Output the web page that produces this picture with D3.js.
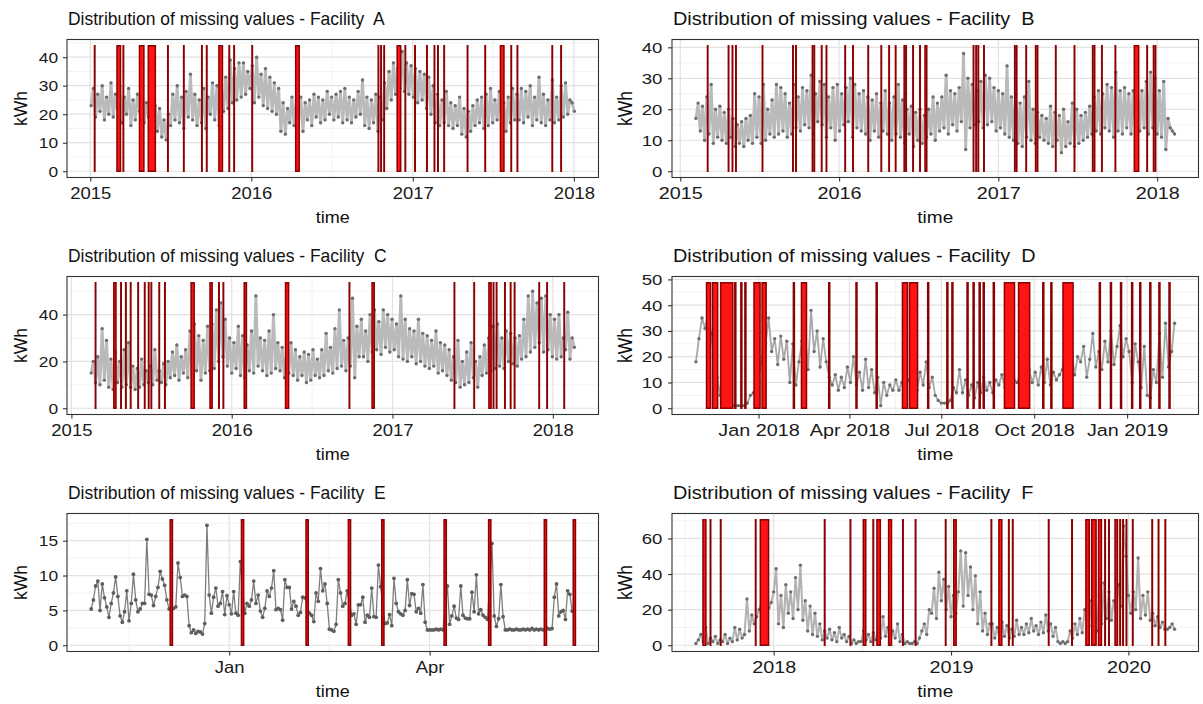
<!DOCTYPE html>
<html><head><meta charset="utf-8">
<script src="https://cdnjs.cloudflare.com/ajax/libs/d3/7.8.5/d3.min.js"></script>
<style>html,body{margin:0;padding:0;background:#fff}svg{display:block}</style>
</head><body>
<svg id="chart" width="1203" height="704"></svg>
<script>
// ---------------- DATA ----------------
const facilities = ["A", "B", "C", "D", "E", "F"];

// series start dates and sampling step (days)
const aStart = "2015-01-03", aStep = 5;
const bStart = "2015-02-06", bStep = 5;
const cStart = "2015-02-15", cStep = 5;
const dStart = "2017-10-31", dStep = 3;
const eStart = "2018-10-31", eStep = 1;
const fStart = "2017-07-25", fStep = 5;

const aValues = [23,29,
 19,27,21,30,18,26, 20,31,19,27,22,30, 17,26,20,29,16,25, 18,27,21,30,17,24, 19,26,15,23,14,22, 12,18,11,20,16,27,
 18,30,17,26,15,28, 19,34,18,27,16,25, 17,29,15,26,20,31, 18,30,16,27,21,33, 22,39,24,36,25,38,
 26,38,27,35,29,37, 24,40,26,34,23,36, 22,33,21,31,20,29, 14,24,13,22,17,26, 16,25,17,26,14,24, 18,25,16,27,19,26,
 17,25,18,28,20,26, 18,27,19,28,17,29, 18,26,17,25,19,28, 20,32,16,26,15,25, 17,27,14,26,18,31, 22,35,25,38,27,36,
 29,42,28,38,27,37, 26,36,24,35,25,34, 22,33,20,30,17,27, 16,25,17,28,16,24, 15,23,16,26,13,22, 12,21,14,23,16,25,
 17,26,15,27,16,29, 17,25,18,28,16,24, 14,26,17,29,18,27, 18,29,17,28,19,30, 16,26,18,33,17,27, 16,25,18,32,17,26,
 18,30,19,31,20,25,24,21];

const bValues = [17,22,13,21,10,
 24,12,28,9,20,11, 21,10,19,9,20,11, 17,8,15,9,16,8, 17,10,18,9,25,11, 24,9,28,10,20,12,
 23,11,28,12,27,13, 25,11,22,12,28,14, 24,13,27,15,26,14, 31,12,25,16,29,15, 28,11,24,14,27,10,
 28,13,25,15,27,16, 30,11,28,14,25,13, 26,12,24,10,23,13, 25,11,22,13,26,12, 22,10,24,12,28,11, 23,9,20,12,21,8,
 19,10,20,9,18,11, 20,12,24,10,22,13, 24,14,31,12,26,15, 25,13,27,16,38,7, 30,14,28,15,26,16, 29,14,31,15,30,16,
 27,13,26,14,25,12, 34,11,24,10,25,9, 22,8,24,11,29,10, 20,9,19,11,18,10, 17,9,21,8,19,10, 18,6,20,8,16,9,
 22,8,20,9,18,10, 19,11,21,12,24,13, 26,12,25,14,28,13, 27,11,32,13,26,12, 27,14,25,12,26,15, 28,13,26,14,29,12,
 32,14,30,12,26,11, 29,7,17,14,13,12];

const cValues = [15,20,11,
 22,10,34,12,29,9, 21,8,24,11,20,9, 25,10,28,9,18,8, 17,9,21,10,16,11, 18,10,25,12,16,11,
 19,10,20,13,24,14, 27,12,22,15,25,13, 33,14,36,16,31,12, 29,15,35,16,36,17, 42,20,45,22,38,18,
 30,15,28,17,35,14, 31,13,27,16,33,15, 48,18,30,16,29,14, 33,15,40,17,28,16, 26,13,24,15,28,14, 25,12,22,14,24,11,
 23,12,25,14,21,13, 25,14,32,16,26,15, 34,17,42,18,29,16, 30,18,47,13,35,22, 38,22,33,20,40,24, 42,25,37,23,42,26,
 40,24,38,25,36,22, 48,21,38,20,34,22, 33,19,38,20,32,18, 31,17,29,18,33,15, 28,16,27,14,25,12, 22,11,29,9,20,10,
 24,11,28,13,20,9, 22,14,27,15,30,16, 35,17,36,18,30,17, 33,20,32,19,30,18, 31,21,38,22,48,24, 50,26,45,28,47,24,
 48,25,40,22,38,21, 40,22,30,25,41,21,30,26];

const dValues = [18,27,35,31,37,
 29,20,12,5,2,1,1,1, 1,1,1,1,2,5,6, 8,15,20,25,
 35,22,27,17,28,19,26, 10,25,9,18,26,29,15, 38,22,30,16,27,18,12, 9,13,7,12,8,16,10,
 20,9,14,7,19,8,15, 6,12,1,10,5,9,7, 11,7,10,8,11,9,12, 7,14,9,18,8,12,5,
 3,2,2,2,3,8,6, 15,6,11,5,9,4,10, 6,12,7,10,6,11,9, 13,8,12,9,11,10,13,
 12,9,15,10,14,9,16, 10,19,9,14,11,13,15, 26,14,22,13,20,18,24, 12,19,29,16,22,15,26,
 18,30,17,24,32,20,27, 22,10,25,18,8,24,5, 4,15,10,29,12,33,16, 22,33];

// Facility E: daily readings, null = missing day
const eValues = [5.2,6.5,8.5,9.2,5.0,8.8,6.8,5.5,4.0,6.0,7.5,9.8,7.0,4.2,3.3,4.8,7.8,3.5,6.0,10.2,6.5,4.8,5.2,6.0,6.0,15.2,7.3,7.2,5.7,7.0,8.3,10.6,9.5,8.6,6.5,5.2,
 null,
 5.3,5.5,11.8,9.7,7.0,7.2,7.0,2.8,1.8,2.2,1.7,2.0,1.9,1.6,3.1,17.2,7.2,4.6,6.9,8.2,5.6,6.0,7.7,4.4,7.1,5.8,4.5,7.7,4.6,4.3,12.0,
 null,
 4.6,6.0,5.6,6.5,9.2,6.0,7.2,4.9,4.0,5.3,7.8,7.0,8.2,10.7,5.1,5.3,5.1,3.6,9.4,8.3,8.3,5.2,6.3,5.6,4.3,4.7,6.9,6.8,
 null,
 4.6,4.3,3.4,7.5,6.3,11.0,7.8,8.8,6.0,2.3,2.2,2.0,3.0,9.4,7.5,5.6,6.0,7.8,
 null,
 4.3,4.5,3.0,5.8,5.8,6.9,3.3,4.3,4.0,8.2,4.1,4.0,11.5,8.4,
 null,
 3.1,3.2,4.4,2.8,9.6,6.0,4.8,4.5,4.3,5.0,9.4,5.7,7.4,7.3,4.8,5.3,4.6,8.7,3.3,2.2,2.2,2.2,2.2,2.3,2.2,2.3,2.2,
 null,
 8.5,3.0,4.2,5.6,3.9,3.7,8.5,4.3,3.9,3.8,3.8,7.6,4.8,10.1,4.5,5.1,4.3,4.0,3.7,
 null,
 14.6,4.2,2.7,3.8,8.7,4.1,2.2,2.2,2.3,2.2,2.2,2.3,2.2,2.2,2.3,2.2,2.3,2.2,2.4,2.2,2.3,2.2,2.3,2.2,
 null,
 2.4,2.3,2.4,6.9,8.8,4.2,4.8,5.0,3.7,7.8,7.3,4.9];

const fValues = [1,3,
 6,2,10,1,4,2, 5,1,3,2,6,1, 4,2,10,3,9,4, 6,26,8,17,12,16, 20,24,22,25,21,24,
 30,43,12,28,10,34, 18,30,15,38,20,45, 14,25,8,22,6,18, 5,12,3,8,4,9, 3,7,2,10,4,6, 2,5,1,3,1,2,
 2,8,3,6,2,7, 3,9,4,16,5,10, 3,8,4,12,2,6, 1,2,1,1,2,1, 4,8,12,6,20,18, 32,15,41,25,37,20,
 33,16,28,18,30,53, 22,52,28,44,20,39, 12,30,8,18,6,12, 12,4,10,3,13,5, 11,4,9,5,14,6, 10,6,12,7,15,8,
 11,6,13,7,17,8, 12,5,10,2,1,2, 1,2,8,4,12,6, 15,7,20,9,25,11, 24,8,28,12,35,15, 30,14,25,20,34,22,
 67,50,28,18,30,20, 49,15,28,17,30,14, 18,11,16,10,13,9, 9,10,12,9];

// missing-value periods [first day, last day]
const aMissing = [["2015-01-11"],["2015-03-03","2015-03-10"],["2015-03-17"],["2015-04-23","2015-05-02"],["2015-05-13","2015-05-28"],
 ["2015-06-26"],["2015-08-01"],["2015-09-11"],["2015-09-22"],["2015-10-20","2015-10-27"],["2015-11-12"],["2015-11-23"],
 ["2016-01-03"],["2016-04-11","2016-04-18"],["2016-10-15"],["2016-10-21"],["2016-10-28"],["2016-11-27","2016-12-04"],
 ["2016-12-15"],["2017-01-06"],["2017-02-02"],["2017-02-19"],["2017-02-27"],["2017-03-13"],["2017-05-05"],["2017-06-14"],
 ["2017-07-19","2017-07-26"],["2017-08-12"],["2017-08-26"],["2017-11-13"],["2017-12-03"]];
const bMissing = [["2015-03-05"],["2015-04-22"],["2015-05-01"],["2015-05-09"],["2015-07-09"],["2015-09-17"],["2015-09-24"],
 ["2015-11-01"],["2015-11-05"],["2015-11-22"],["2015-12-03"],["2016-01-15"],["2016-02-02"],["2016-03-08"],["2016-04-07"],
 ["2016-04-25"],["2016-05-10"],["2016-05-30"],["2016-06-03"],["2016-06-19"],["2016-07-05"],["2016-07-17","2016-07-20"],
 ["2016-11-05"],["2016-11-11"],["2016-11-16"],["2016-11-29"],["2017-02-08"],["2017-02-12"],["2017-03-06"],["2017-03-28"],
 ["2017-04-01"],["2017-05-13"],["2017-06-25"],["2017-08-06"],["2017-08-10"],["2017-08-27"],["2017-09-27"],
 ["2017-11-10","2017-11-19"],["2017-12-09"],["2017-12-24"],["2017-12-28"]];
const cMissing = [["2015-02-25"],["2015-04-08","2015-04-12"],["2015-04-24"],["2015-05-05"],["2015-05-16"],["2015-06-02"],
 ["2015-06-17"],["2015-06-26"],["2015-07-02"],["2015-07-20"],["2015-08-02"],["2015-10-01","2015-10-07"],["2015-11-13","2015-11-17"],
 ["2015-12-03"],["2015-12-13"],["2016-01-30","2016-02-03"],["2016-05-03","2016-05-09"],["2016-09-25"],["2016-11-16","2016-11-20"],
 ["2017-05-22"],["2017-07-06"],["2017-08-09","2017-08-13"],["2017-08-19"],["2017-08-26"],["2017-09-14"],["2017-09-27"],
 ["2017-10-06"],["2017-12-01"],["2017-12-19"],["2018-01-27"]];
const dMissing = [["2017-11-11","2017-11-14"],["2017-11-17","2017-11-21"],["2017-11-25","2017-12-06"],["2017-12-09"],["2017-12-15"],
 ["2017-12-19"],["2017-12-28","2018-01-02"],["2018-01-05","2018-01-08"],["2018-02-05"],["2018-02-13","2018-02-17"],["2018-03-12"],
 ["2018-04-08"],["2018-04-28"],["2018-05-24","2018-05-28"],["2018-05-31","2018-06-07"],["2018-06-18"],["2018-07-07"],["2018-07-12"],
 ["2018-07-27"],["2018-08-02"],["2018-08-08"],["2018-08-12"],["2018-08-22"],["2018-09-02","2018-09-11"],["2018-09-16","2018-09-26"],
 ["2018-10-10"],["2018-10-18"],["2018-10-30","2018-11-08"],["2018-12-05"],["2018-12-16"],["2018-12-26"],["2019-01-06"],
 ["2019-01-14"],["2019-01-24"],["2019-02-02"],["2019-02-12"]];
const eMissing = [["2018-12-06"],["2019-01-07"],["2019-02-05"],["2019-02-24"],["2019-03-11"],["2019-04-08"],["2019-04-28"],
 ["2019-05-23"],["2019-06-05"]];
const fMissing = [["2017-08-09","2017-08-14"],["2017-08-24"],["2017-09-14"],["2017-11-25"],["2017-12-05","2017-12-21"],["2018-04-16"],
 ["2018-06-08"],["2018-07-05","2018-07-09"],["2018-07-25"],["2018-08-02","2018-08-08"],["2018-08-26","2018-08-31"],["2018-09-24"],
 ["2018-10-20"],["2018-12-21"],["2019-01-07","2019-01-11"],["2019-03-25"],["2019-04-10","2019-04-15"],["2019-04-30"],["2019-05-08"],
 ["2019-07-21"],["2019-09-07"],["2019-10-06","2019-10-12"],["2019-10-18","2019-10-26"],["2019-11-01","2019-11-06"],["2019-11-14"],
 ["2019-11-22"],["2019-12-05","2019-12-09"],["2019-12-15"],["2019-12-21"],["2019-12-28"],["2020-01-10"],["2020-02-19"],
 ["2020-03-03"],["2020-03-17"]];

// height (kWh) of the missing-value markers
const missingTop = [44, 40.5, 53.6, 48.7, 18, 70.5];

// ticks
const yTicksA = [0,10,20,30,40], yTicksB = [0,10,20,30,40], yTicksC = [0,20,40],
      yTicksD = [0,10,20,30,40,50], yTicksE = [0,5,10,15], yTicksF = [0,20,40,60];
const xTicksA = ["2015-01-01","2016-01-01","2017-01-01","2018-01-01"], xLabelsA = ["2015","2016","2017","2018"];
const xTicksB = xTicksA, xLabelsB = xLabelsA;
const xTicksC = xTicksA, xLabelsC = xLabelsA;
const xTicksD = ["2018-01-01","2018-04-01","2018-07-01","2018-10-01","2019-01-01"],
      xLabelsD = ["Jan 2018","Apr 2018","Jul 2018","Oct 2018","Jan 2019"];
const xTicksE = ["2019-01-01","2019-04-01"], xLabelsE = ["Jan","Apr"];
const xTicksF = ["2018-01-01","2019-01-01","2020-01-01"], xLabelsF = ["2018","2019","2020"];

const titlePrefix = "Distribution of missing values - Facility  ";
const xTitle = "time", yTitle = "kWh";

// ---------------- BUILD ----------------
const parse = d3.utcParse("%Y-%m-%d");
const DAY = 864e5;
const defs = [
  {start:aStart, step:aStep, values:aValues, missing:aMissing, yTicks:yTicksA, xTicks:xTicksA, xLabels:xLabelsA},
  {start:bStart, step:bStep, values:bValues, missing:bMissing, yTicks:yTicksB, xTicks:xTicksB, xLabels:xLabelsB},
  {start:cStart, step:cStep, values:cValues, missing:cMissing, yTicks:yTicksC, xTicks:xTicksC, xLabels:xLabelsC},
  {start:dStart, step:dStep, values:dValues, missing:dMissing, yTicks:yTicksD, xTicks:xTicksD, xLabels:xLabelsD},
  {start:eStart, step:eStep, values:eValues, missing:eMissing, yTicks:yTicksE, xTicks:xTicksE, xLabels:xLabelsE},
  {start:fStart, step:fStep, values:fValues, missing:fMissing, yTicks:yTicksF, xTicks:xTicksF, xLabels:xLabelsF}
];
// visual style per panel (line width / colours)
const lineW   = [2.8, 2.8, 2.8, 1.8, 1.3, 2.1];
const lineCol = ["#bababa", "#bababa", "#bababa", "#a8a8a8", "#7e7e7e", "#b3b3b3"];
const ptR     = [1.7, 1.7, 1.7, 1.7, 1.9, 1.7];
const ptCol   = ["#6e6e6e", "#6e6e6e", "#6e6e6e", "#6e6e6e", "#5e5e5e", "#6e6e6e"];

const FONT = "'Liberation Sans', Arial, Helvetica, sans-serif";
const colX = [67, 672], colW = [531.5, 526.5];
const rowY = [39.5, 276.5, 513.5], rowH = 138;
// horizontal text stretch per column: [title, tick labels, axis titles]
const colSX = [[0.94, 1.12, 1.06], [1.07, 1.2, 1.12]];

const svg = d3.select("#chart");
svg.append("rect").attr("width",1203).attr("height",704).attr("fill","#fff");

function label(g, x, y, s, size, anchor, sx, rot) {
  return g.append("text")
    .attr("transform", `translate(${x},${y}) scale(${sx},1)` + (rot ? ` rotate(${rot})` : ""))
    .attr("font-family", FONT).attr("font-size", size).attr("text-anchor", anchor)
    .style("white-space", "pre").attr("fill", "#111").text(s);
}

defs.forEach((p, k) => {
  const col = k % 2, row = Math.floor(k / 2);
  const X0 = colX[col], W = colW[col], Y0 = rowY[row], H = rowH;
  const sx = colSX[col];
  const top = missingTop[k];
  const t0 = parse(p.start).getTime();
  const series = p.values.map((v, i) => ({date: new Date(t0 + i * p.step * DAY), value: v}))
                         .filter(d => d.value !== null);
  const miss = p.missing.map(m => ({s: parse(m[0]), e: parse(m[1] || m[0])}));

  const allDates = series.map(d => d.date).concat(miss.map(m => m.s), miss.map(m => m.e));
  const ext = d3.extent(allDates);
  const span = ext[1] - ext[0];
  const x = d3.scaleUtc().domain([new Date(+ext[0] - 0.05 * span), new Date(+ext[1] + 0.05 * span)]).range([0, W]);
  const y = d3.scaleLinear().domain([-0.05 * top, top * 1.05]).range([H, 0]);

  const g = svg.append("g").attr("transform", `translate(${X0},${Y0})`);
  g.append("rect").attr("width", W).attr("height", H).attr("fill", "#fff");

  // grid
  const yt = p.yTicks, ys = yt[1] - yt[0];
  const yMinor = [];
  for (let v = yt[0] - ys / 2; v <= top * 1.05; v += ys) if (v >= -0.05 * top) yMinor.push(v);
  const xt = p.xTicks.map(parse);
  const xMinor = [];
  const ext2 = [new Date(2 * xt[0] - xt[1])].concat(xt, [new Date(2 * xt[xt.length - 1] - xt[xt.length - 2])]);
  for (let i = 0; i < ext2.length - 1; i++) {
    const m = new Date((+ext2[i] + +ext2[i + 1]) / 2);
    if (m >= x.domain()[0] && m <= x.domain()[1]) xMinor.push(m);
  }
  const grid = g.append("g");
  grid.selectAll(".ymn").data(yMinor).join("line").attr("x1", 0).attr("x2", W)
    .attr("y1", d => y(d)).attr("y2", d => y(d)).attr("stroke", "#f0f0f0").attr("stroke-width", 0.8);
  grid.selectAll(".xmn").data(xMinor).join("line").attr("y1", 0).attr("y2", H)
    .attr("x1", d => x(d)).attr("x2", d => x(d)).attr("stroke", "#f0f0f0").attr("stroke-width", 0.8);
  grid.selectAll(".ymj").data(yt).join("line").attr("x1", 0).attr("x2", W)
    .attr("y1", d => y(d)).attr("y2", d => y(d)).attr("stroke", "#e2e2e2").attr("stroke-width", 1.2);
  grid.selectAll(".xmj").data(xt).join("line").attr("y1", 0).attr("y2", H)
    .attr("x1", d => x(d)).attr("x2", d => x(d)).attr("stroke", "#e2e2e2").attr("stroke-width", 1.2);

  // series
  const line = d3.line().x(d => x(d.date)).y(d => y(d.value));
  g.append("path").datum(series).attr("d", line).attr("fill", "none")
    .attr("stroke", lineCol[k]).attr("stroke-width", lineW[k]).attr("stroke-linejoin", "round");
  g.append("g").selectAll("circle").data(series).join("circle")
    .attr("cx", d => x(d.date)).attr("cy", d => y(d.value)).attr("r", ptR[k]).attr("fill", ptCol[k]);

  // missing values
  g.append("g").selectAll("rect").data(miss).join("rect")
    .attr("x", d => x(new Date(+d.s - DAY / 2)))
    .attr("width", d => Math.max(0.1, x(new Date(+d.e + DAY / 2)) - x(new Date(+d.s - DAY / 2))))
    .attr("y", y(top)).attr("height", y(0) - y(top))
    .attr("fill", "#ff1414").attr("stroke", "#8b0000").attr("stroke-width", 1.5);

  // border
  g.append("rect").attr("width", W).attr("height", H).attr("fill", "none").attr("stroke", "#333").attr("stroke-width", 1.1);

  // axes
  g.append("g").call(d3.axisLeft(y).tickValues(yt).tickSize(4).tickPadding(4))
    .call(s => {
      s.select(".domain").remove();
      s.selectAll("line").attr("stroke", "#333").attr("stroke-width", 1.1);
      s.selectAll("text").attr("font-size", 15.5).attr("font-family", FONT).attr("fill", "#1a1a1a")
        .attr("transform", `scale(${sx[1]},1)`);
    });
  g.append("g").attr("transform", `translate(0,${H})`)
    .call(d3.axisBottom(x).tickValues(xt).tickFormat((d, i) => p.xLabels[i]).tickSize(4).tickPadding(6))
    .call(s => {
      s.select(".domain").remove();
      s.selectAll("line").attr("stroke", "#333").attr("stroke-width", 1.1);
      s.selectAll("text").attr("font-size", 16.5).attr("font-family", FONT).attr("fill", "#1a1a1a")
        .attr("transform", `scale(${sx[1]},1)`);
    });

  // titles
  label(g, 1, -15, titlePrefix + facilities[k], 18.6, "start", sx[0]);
  label(g, W / 2, H + 45, xTitle, 17, "middle", sx[2]);
  label(g, -40, H / 2, yTitle, 17.5, "middle", sx[2], -90);
});
</script>
</body></html>
